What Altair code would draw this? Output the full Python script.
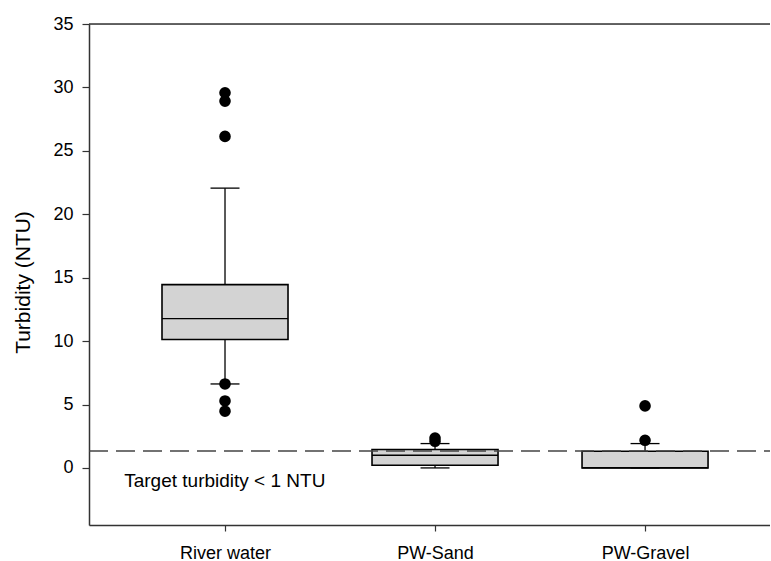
import altair as alt
import pandas as pd

# ---- data ----
categories = ["River water", "PW-Sand", "PW-Gravel"]
positions = [1, 2, 3]
q1 = [10.12, 0.21, 0.0]
median = [11.77, 1.0, 0.0]
q3 = [14.45, 1.45, 1.31]
whisker_low = [6.62, 0.0, 0.0]
whisker_high = [22.06, 1.92, 1.92]

outlier_cat = [1, 1, 1, 1, 1, 1, 2, 2, 3, 3]
outlier_val = [29.58, 28.92, 26.14, 6.62, 5.28, 4.47, 2.1, 2.35, 2.18, 4.89]

target_line = [1.33]
annotation = ["Target turbidity < 1 NTU"]
annotation_pos = [0.52]
annotation_val = [-1.5]

y_ticks = [0, 5, 10, 15, 20, 25, 30, 35]
y_domain = [-4.5, 35]
x_domain = [0.3524, 3.595]

FONT = "Liberation Sans"
W, H = 681, 501

boxes = pd.DataFrame({
    "cat": categories, "pos": positions, "q1": q1, "median": median,
    "q3": q3, "lo": whisker_low, "hi": whisker_high,
})
outs = pd.DataFrame({"pos": outlier_cat, "val": outlier_val})

xs = alt.Scale(domain=x_domain, nice=False, zero=False)
ys = alt.Scale(domain=y_domain, nice=False, zero=False)

label_expr = "datum.value == 1 ? 'River water' : datum.value == 2 ? 'PW-Sand' : 'PW-Gravel'"
x_axis = alt.Axis(values=positions, labelExpr=label_expr, title=None, grid=False,
                  tickSize=6, labelPadding=13, labelFontSize=18, labelFont=FONT,
                  labelColor="black", domainColor="#333", tickColor="#333",
                  domainWidth=1.5, tickWidth=1.2)
y_axis = alt.Axis(values=y_ticks, title="Turbidity (NTU)", grid=False,
                  tickSize=7, labelPadding=9, labelFontSize=18, labelFont=FONT,
                  labelColor="black", domainColor="#333", tickColor="#333",
                  domainWidth=1.5, tickWidth=1.2,
                  titleFont=FONT, titleFontSize=21, titleFontWeight="normal",
                  titleColor="black", titleX=-66, titleY=258, titleAngle=270,
                  titleAlign="center", titleBaseline="middle")

base = alt.Chart(boxes).transform_calculate(
    xlo="datum.pos - 0.3", xhi="datum.pos + 0.3",
    clo="datum.pos - 0.069", chi="datum.pos + 0.069")

whisk_up = base.mark_rule(color="black", strokeWidth=1.3).encode(
    x=alt.X("pos:Q", scale=xs, axis=x_axis),
    y=alt.Y("q3:Q", scale=ys, axis=y_axis), y2="hi:Q")
whisk_dn = base.mark_rule(color="black", strokeWidth=1.3).encode(
    x="pos:Q", y="lo:Q", y2="q1:Q")
cap_up = base.mark_rule(color="black", strokeWidth=1.3).encode(
    x="clo:Q", x2="chi:Q", y="hi:Q")
cap_dn = base.mark_rule(color="black", strokeWidth=1.3).encode(
    x="clo:Q", x2="chi:Q", y="lo:Q")
box = base.mark_rect(fill="#d3d3d3", stroke="black", strokeWidth=1.6).encode(
    x="xlo:Q", x2="xhi:Q", y="q1:Q", y2="q3:Q")
med = base.mark_rule(color="black", strokeWidth=1.3).encode(
    x="xlo:Q", x2="xhi:Q", y="median:Q")

dots = alt.Chart(outs).mark_circle(color="black", opacity=1, size=135).encode(
    x="pos:Q", y="val:Q")

target = alt.Chart(pd.DataFrame({"t": target_line})).mark_rule(
    color="#444", strokeWidth=1.4, strokeDash=[19, 8]).encode(
    y="t:Q", x=alt.value(0), x2=alt.value(W))

txt = alt.Chart(pd.DataFrame({"label": annotation, "x": annotation_pos,
                              "y": annotation_val})).mark_text(
    align="left", baseline="alphabetic", font=FONT, fontSize=19,
    color="black").encode(x="x:Q", y="y:Q", text="label:N")

top = alt.Chart(pd.DataFrame({"t": [y_domain[1]]})).mark_rule(
    color="#333", strokeWidth=1.5).encode(y="t:Q", x=alt.value(0), x2=alt.value(W))

chart = alt.layer(whisk_up, whisk_dn, cap_up, cap_dn, box, med, target, dots, txt, top).properties(
    width=W, height=H,
    autosize=alt.AutoSizeParams(type="none"),
    padding={"left": 89, "top": 24, "right": 0, "bottom": 36},
).configure_view(stroke=None).configure(background="white")

chart.save("out.html", embed_options={"renderer": "svg", "actions": False})
